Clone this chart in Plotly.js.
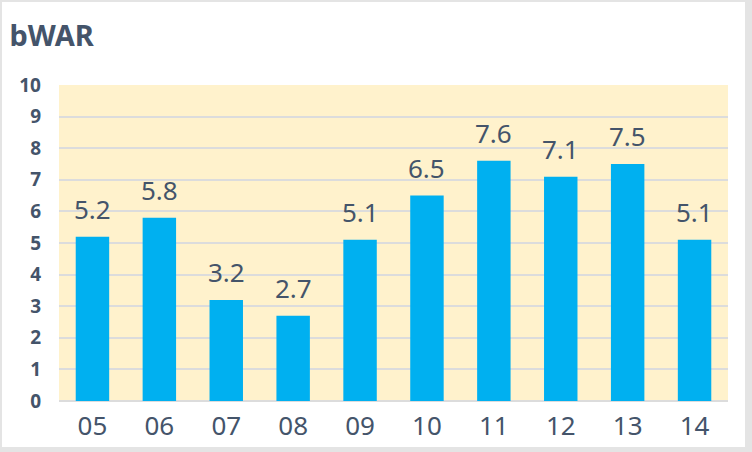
<!DOCTYPE html>
<html>
<head>
<meta charset="utf-8">
<script src="https://cdn.plot.ly/plotly-3.0.1.min.js"></script>
<style>
  html, body { margin: 0; padding: 0; background: #e4e4e4; }
  #plot { position: absolute; left: 2px; top: 2px; width: 743px; height: 445px; background: #fff; }
</style>
</head>
<body>
<div id="plot"></div>
<script>
const seasons = ['05', '06', '07', '08', '09', '10', '11', '12', '13', '14'];
const bwar = [5.2, 5.8, 3.2, 2.7, 5.1, 6.5, 7.6, 7.1, 7.5, 5.1];
const yTicks = [0, 1, 2, 3, 4, 5, 6, 7, 8, 9, 10];

const SLATE = '#44546A';

const trace = {
  x: seasons,
  y: bwar,
  type: 'bar',
  marker: { color: '#00B0F0' },
  hoverinfo: 'none',
};

// value labels sit a bit higher above the bars than plotly's own outside text
// (category index as x: '05' etc. would be read as numbers)
const labels = bwar.map((v, i) => ({
  x: i,
  y: v,
  xref: 'x',
  yref: 'y',
  text: v.toFixed(1),
  showarrow: false,
  yanchor: 'bottom',
  yshift: 8,
  font: { family: 'Noto Sans, sans-serif', size: 26, color: SLATE },
}));

const layout = {
  width: 743,
  height: 445,
  showlegend: false,
  paper_bgcolor: '#ffffff',
  plot_bgcolor: '#FFF2CC',
  font: { family: 'Noto Sans, sans-serif', color: SLATE },
  title: {
    text: '<b>bWAR</b>',
    x: 0.01,
    xanchor: 'left',
    y: 0.925,
    yanchor: 'middle',
    font: { size: 29, color: SLATE },
  },
  bargap: 0.5,
  xaxis: {
    type: 'category',
    showgrid: false,
    showline: false,
    ticks: '',
    ticklabelstandoff: 7,
    tickfont: { size: 26, color: SLATE },
  },
  yaxis: {
    range: [0, 10],
    tickvals: yTicks,
    ticktext: yTicks.map(t => '<b>' + t + '</b>'),
    gridcolor: '#dcdcdc',
    gridwidth: 2,
    zeroline: true,
    zerolinecolor: '#dcdcdc',
    zerolinewidth: 2,
    ticks: '',
    ticklen: 0,
    ticklabelstandoff: 17,
    tickfont: { size: 19, color: SLATE },
  },
  annotations: labels,
  margin: { l: 57, r: 17, t: 83, b: 46 },
};

const config = {
  staticPlot: true,
  displayModeBar: false,
};

Plotly.newPlot('plot', [trace], layout, config);
</script>
</body>
</html>
